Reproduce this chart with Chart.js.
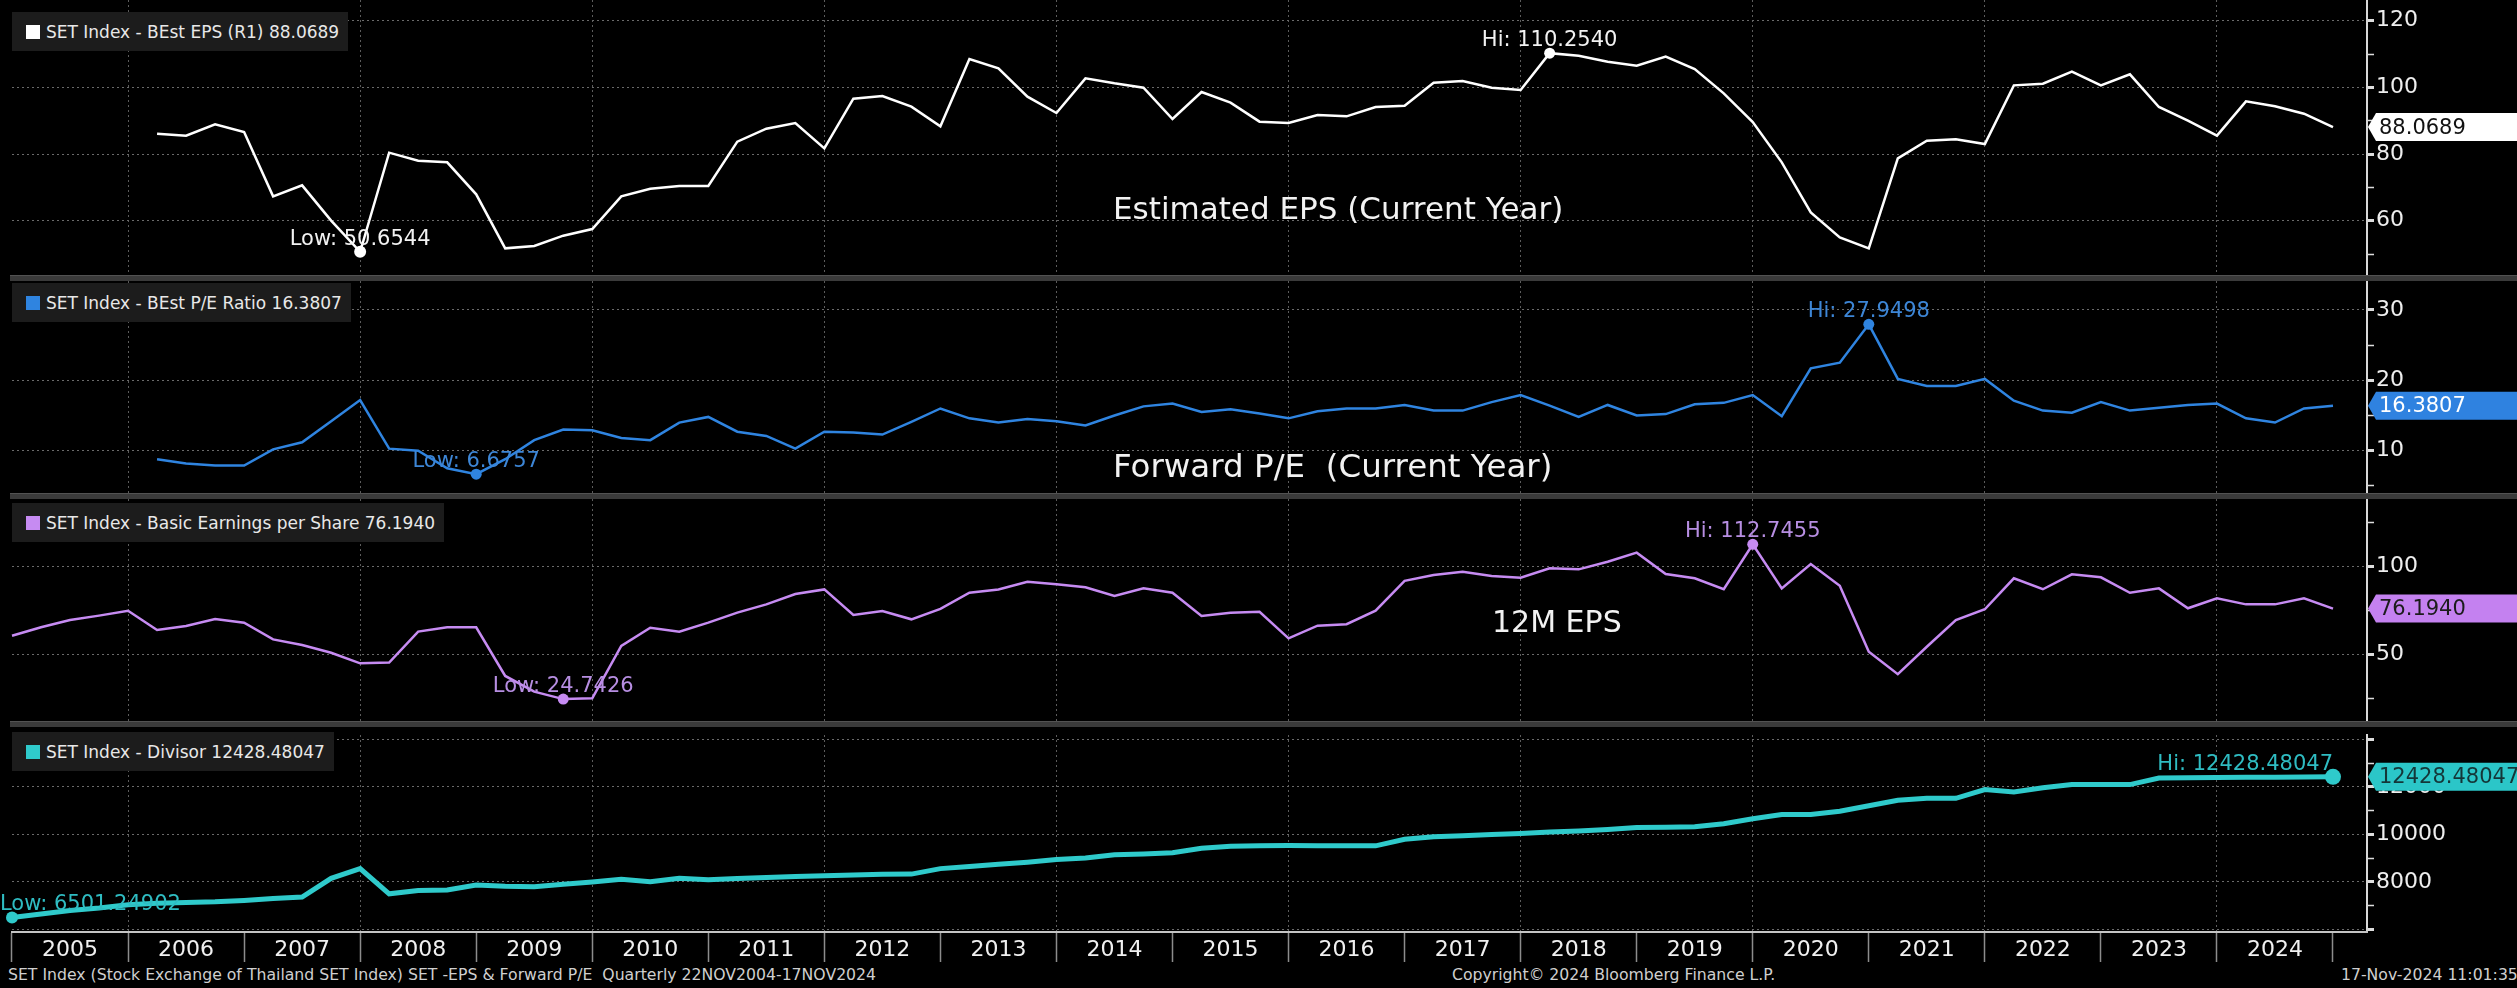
<!DOCTYPE html>
<html>
<head>
<meta charset="utf-8">
<script src="https://cdn.jsdelivr.net/npm/chart.js@4.4.1/dist/chart.umd.min.js"></script>
<style>
  html, body { margin: 0; padding: 0; background: #000; }
  #wrap { position: relative; width: 2517px; height: 988px; overflow: hidden; background: #000; font-family: 'DejaVu Sans', sans-serif; }
  canvas { position: absolute; left: 0; }
  .sep { position: absolute; left: 10px; right: 0; height: 6px; background: #3a3a3a; border-top: 1px solid #525252; box-sizing: border-box; }
  .legend { position: absolute; left: 12px; height: 39px; background: #1c1c1c; color: #e8e8e8; font-size: 17px; padding: 0 9px 0 14px; display: flex; align-items: center; white-space: pre; }
  .legend i { display: inline-block; width: 14px; height: 14px; margin-right: 6px; }
  .title { position: absolute; color: #f2f2f2; font-size: 31px; line-height: 31px; white-space: pre; }
  .foot { position: absolute; top: 966px; color: #cfcfcf; font-size: 15.7px; line-height: 17px; white-space: pre; }
</style>
</head>
<body>
<div id="wrap">
  <canvas id="c1" width="2517" height="275" style="top:0px"></canvas>
  <div class="sep" style="top:275px"></div>
  <canvas id="c2" width="2517" height="212" style="top:281px"></canvas>
  <div class="sep" style="top:493px"></div>
  <canvas id="c3" width="2517" height="222" style="top:499px"></canvas>
  <div class="sep" style="top:721px"></div>
  <canvas id="c4" width="2517" height="238" style="top:727px"></canvas>

  <div class="legend" id="lg1" style="top:12px"></div>
  <div class="legend" id="lg2" style="top:283px"></div>
  <div class="legend" id="lg3" style="top:503px"></div>
  <div class="legend" id="lg4" style="top:732px"></div>

  <div class="title" style="left:1113px; top:193px">Estimated EPS (Current Year)</div>
  <div class="title" style="left:1113px; top:450px; font-size:32.5px; line-height:32.5px">Forward P/E  (Current Year)</div>
  <div class="title" style="left:1492px; top:607px; font-size:30px; line-height:30px">12M EPS</div>

  <div class="foot" style="left:8px">SET Index (Stock Exchange of Thailand SET Index) SET -EPS &amp; Forward P/E  Quarterly 22NOV2004-17NOV2024</div>
  <div class="foot" style="left:1452px">Copyright© 2024 Bloomberg Finance L.P.</div>
  <div class="foot" style="left:2341px">17-Nov-2024 11:01:35</div>
</div>

<script>
// quarter ends, Q4 2004 .. Q4 2024
const quarters = [
  '2004Q4',
  '2005Q1','2005Q2','2005Q3','2005Q4','2006Q1','2006Q2','2006Q3','2006Q4',
  '2007Q1','2007Q2','2007Q3','2007Q4','2008Q1','2008Q2','2008Q3','2008Q4',
  '2009Q1','2009Q2','2009Q3','2009Q4','2010Q1','2010Q2','2010Q3','2010Q4',
  '2011Q1','2011Q2','2011Q3','2011Q4','2012Q1','2012Q2','2012Q3','2012Q4',
  '2013Q1','2013Q2','2013Q3','2013Q4','2014Q1','2014Q2','2014Q3','2014Q4',
  '2015Q1','2015Q2','2015Q3','2015Q4','2016Q1','2016Q2','2016Q3','2016Q4',
  '2017Q1','2017Q2','2017Q3','2017Q4','2018Q1','2018Q2','2018Q3','2018Q4',
  '2019Q1','2019Q2','2019Q3','2019Q4','2020Q1','2020Q2','2020Q3','2020Q4',
  '2021Q1','2021Q2','2021Q3','2021Q4','2022Q1','2022Q2','2022Q3','2022Q4',
  '2023Q1','2023Q2','2023Q3','2023Q4','2024Q1','2024Q2','2024Q3','2024Q4'
];
const yearLabels = [2005,2006,2007,2008,2009,2010,2011,2012,2013,2014,2015,2016,2017,2018,2019,2020,2021,2022,2023,2024];
const gridYears = [2006,2008,2010,2012,2014,2016,2018,2020,2022,2024];

const bestEps = [null,null,null,null,null,86.1,85.5,88.9,86.6,67.3,70.6,60.0,50.6544,80.4,78.0,77.5,67.9,51.7,52.4,55.5,57.5,67.3,69.6,70.4,70.4,83.7,87.6,89.3,81.7,96.6,97.4,94.2,88.3,108.5,105.7,97.2,92.3,102.7,101.2,99.9,90.5,98.6,95.4,89.7,89.3,91.7,91.3,94.1,94.5,101.4,101.9,99.9,99.2,110.254,109.5,107.7,106.5,109.2,105.5,98.2,89.6,77.5,62.5,55.0,51.7,78.7,84.0,84.4,83.0,100.6,101.1,104.7,100.6,103.9,94.1,90.0,85.5,95.8,94.3,92.1,88.0689];
const bestPe = [null,null,null,null,null,8.8,8.2,7.9,7.9,10.2,11.2,14.2,17.2,10.3,10.0,7.5,6.6757,8.8,11.5,13.0,12.9,11.8,11.5,14.0,14.8,12.7,12.1,10.3,12.7,12.6,12.3,14.1,16.0,14.6,14.0,14.5,14.2,13.6,15.0,16.3,16.7,15.5,15.9,15.3,14.6,15.6,16.0,16.0,16.5,15.7,15.7,16.9,17.9,16.4,14.8,16.5,15.0,15.2,16.6,16.8,17.9,14.9,21.7,22.5,27.9498,20.2,19.2,19.2,20.2,17.1,15.7,15.4,16.9,15.7,16.1,16.5,16.7,14.6,14.0,16.0,16.3807];
const basicEps = [60.8,65.6,69.7,72.2,75.0,64.0,66.3,70.3,68.2,58.7,55.5,51.1,45.1,45.5,63.1,65.6,65.6,37.9,29.0,24.7426,25.2,55.0,65.3,63.1,68.2,73.9,78.6,84.5,87.1,72.6,74.8,70.1,76.0,85.2,87.1,91.5,90.0,88.3,83.4,87.7,85.2,72.0,73.9,74.4,59.3,66.5,67.3,75.0,92.0,95.3,97.2,94.7,93.8,99.1,98.5,102.8,108.0,95.9,93.4,87.2,112.7455,87.7,101.5,89.2,51.7,38.9,54.5,69.7,75.8,93.4,87.2,95.7,94.0,85.2,87.7,76.4,82.0,78.6,78.6,82.0,76.194];
const divisor = [6501.24902,6650,6800,6900,7040,7100,7130,7160,7220,7300,7360,8150,8560,7500,7640,7660,7870,7820,7800,7900,8000,8110,8010,8150,8090,8140,8190,8230,8260,8290,8320,8330,8560,8650,8740,8830,8940,9010,9140,9180,9230,9420,9500,9520,9530,9520,9520,9520,9800,9900,9940,10000,10040,10100,10150,10210,10290,10300,10320,10450,10660,10840,10840,10980,11210,11440,11520,11520,11890,11790,11970,12100,12100,12100,12380,12390,12400,12410,12415,12420,12428.48047];

const epsTicks = [50,60,70,80,90,100,110,120];
const epsMajors = [60,80,100,120];
const peTicks = [5,10,15,20,25,30];
const peMajors = [10,20,30];
const basicTicks = [25,50,75,100,125];
const basicMajors = [50,100];
const divTicks = [6000,7000,8000,9000,10000,11000,12000,13000,14000];
const divMajors = [6000,8000,10000,12000,14000];
const divLabels = [8000,10000,12000];

const quarterX = quarters.map(q => Number(q.slice(0, 4)) + Number(q.slice(5)) / 4);
const xMin = 2005, xMax = 2025.293;

Chart.defaults.font.family = "'DejaVu Sans', sans-serif";

const marksPlugin = {
  id: 'marks',
  afterDraw(chart, args, o) {
    const {ctx, chartArea} = chart;
    const xs = chart.scales.x, ys = chart.scales.y;
    const pts = chart.data.datasets[0].data;
    ctx.save();
    ctx.font = "21px 'DejaVu Sans'";
    ctx.textBaseline = 'alphabetic';
    ctx.fillStyle = o.labelColor;
    [[o.hi, 'Hi: '], [o.lo, 'Low: ']].forEach(([idx, pre]) => {
      const p = pts[idx];
      const px = xs.getPixelForValue(p.x), py = ys.getPixelForValue(p.y);
      const txt = pre + p.y.toFixed(o.decimals);
      const w = ctx.measureText(txt).width;
      let left = px - w / 2;
      if (left + w > chartArea.right) left = px - w;
      if (left < chartArea.left) left = px - 12;
      ctx.fillText(txt, left, py - 7);
    });
    // current value flag on the axis
    const last = pts[pts.length - 1];
    const fy = ys.getPixelForValue(last.y);
    const fx = chartArea.right + 1, h = 28;
    ctx.fillStyle = o.flagBg;
    ctx.beginPath();
    ctx.moveTo(fx, fy);
    ctx.lineTo(fx + 8, fy - h / 2);
    ctx.lineTo(chart.width, fy - h / 2);
    ctx.lineTo(chart.width, fy + h / 2);
    ctx.lineTo(fx + 8, fy + h / 2);
    ctx.closePath();
    ctx.fill();
    ctx.fillStyle = o.flagText;
    ctx.textBaseline = 'middle';
    ctx.fillText(last.y.toFixed(o.decimals), fx + 11, fy + 1);
    ctx.restore();
  }
};

function makePanel(id, series, cfg) {
  const pts = quarterX.map((x, i) => ({x: x, y: series[i]}));
  const vals = series.filter(v => v !== null);
  const hi = series.indexOf(Math.max(...vals));
  const lo = series.indexOf(Math.min(...vals));

  document.getElementById('lg' + id).innerHTML =
    '<i style="background:' + cfg.color + '"></i>' + cfg.name + ' ' + series[series.length - 1].toFixed(cfg.decimals);

  const scales = {
    x: {
      type: 'linear', position: 'bottom', min: xMin, max: xMax,
      afterBuildTicks: s => { s.ticks = gridYears.map(v => ({value: v})); },
      afterFit: s => { s.height = 0; s.paddingLeft = 0; s.paddingRight = 0; },
      ticks: {display: false},
      grid: {color: '#5c5c5c', lineWidth: 1, drawTicks: false},
      border: {display: false, dash: [2, 3]}
    },
    y: {
      type: 'linear', position: 'right', min: cfg.min, max: cfg.max,
      afterBuildTicks: s => { s.ticks = cfg.ticks.map(v => ({value: v})); },
      afterFit: s => { s.width = 150; s.paddingTop = 0; s.paddingBottom = 0; },
      ticks: {
        color: '#eeeeee', font: {size: 22}, padding: 2, autoSkip: false,
        callback: v => cfg.labels.includes(v) ? String(v) : ''
      },
      grid: {
        color: c => (c.tick && cfg.majors.includes(c.tick.value)) ? '#6a6a6a' : 'rgba(0,0,0,0)',
        lineWidth: 1,
        tickLength: 7,
        tickColor: '#dddddd',
        tickWidth: c => (c.tick && cfg.majors.includes(c.tick.value)) ? 3 : 1.5
      },
      border: {display: true, color: '#d8d8d8', width: 2, dash: [2, 3]}
    }
  };

  if (cfg.yearAxis) {
    scales.xYear = {
      type: 'linear', position: 'bottom', min: xMin, max: xMax,
      afterBuildTicks: s => { s.ticks = yearLabels.map(v => ({value: v + 0.5})); },
      afterFit: s => { s.height = 33; s.paddingLeft = 0; s.paddingRight = 0; },
      ticks: {
        color: '#f0f0f0', font: {size: 22}, padding: -25, autoSkip: false, maxRotation: 0,
        callback: (v, i) => String(yearLabels[i])
      },
      grid: {offset: true, drawOnChartArea: false, drawTicks: true, tickLength: 30, tickColor: '#8c8c8c', tickWidth: 1.5},
      border: {display: true, color: '#c4c4c4', width: 2}
    };
  }

  return new Chart(document.getElementById('c' + id), {
    type: 'line',
    data: {
      datasets: [{
        data: pts,
        xAxisID: 'x',
        yAxisID: 'y',
        borderColor: cfg.color,
        borderWidth: cfg.width,
        tension: 0,
        spanGaps: false,
        clip: 10,
        pointRadius: c => c.dataIndex === hi ? cfg.hiR : (c.dataIndex === lo ? cfg.loR : 0),
        pointBackgroundColor: cfg.color,
        pointBorderWidth: 0
      }]
    },
    options: {
      responsive: false,
      animation: false,
      devicePixelRatio: 1,
      events: [],
      layout: {padding: {left: 12, right: 0, top: 0, bottom: 0}},
      plugins: {
        legend: {display: false},
        tooltip: {enabled: false},
        marks: {hi: hi, lo: lo, decimals: cfg.decimals, labelColor: cfg.labelColor, flagBg: cfg.flagBg, flagText: cfg.flagText}
      },
      scales: scales
    },
    plugins: [marksPlugin]
  });
}

makePanel(1, bestEps, {
  name: 'SET Index - BEst EPS (R1)', color: '#ffffff', width: 2.5, decimals: 4,
  min: 43.7, max: 126.2, ticks: epsTicks, majors: epsMajors, labels: epsMajors,
  hiR: 5.5, loR: 6, labelColor: '#f2f2f2', flagBg: '#ffffff', flagText: '#111111'
});
makePanel(2, bestPe, {
  name: 'SET Index - BEst P/E Ratio', color: '#2f84e0', width: 2.5, decimals: 4,
  min: 4.0, max: 34.1, ticks: peTicks, majors: peMajors, labels: peMajors,
  hiR: 5.5, loR: 5.5, labelColor: '#3d86d6', flagBg: '#2f82e0', flagText: '#ffffff'
});
makePanel(3, basicEps, {
  name: 'SET Index - Basic Earnings per Share', color: '#c68bf2', width: 2.5, decimals: 4,
  min: 12.3, max: 138.5, ticks: basicTicks, majors: basicMajors, labels: basicMajors,
  hiR: 5.5, loR: 5.5, labelColor: '#b78ee2', flagBg: '#c481f0', flagText: '#1c1c1c'
});
makePanel(4, divisor, {
  name: 'SET Index - Divisor', color: '#2fcacb', width: 5, decimals: 5,
  min: 5890, max: 14190, ticks: divTicks, majors: divMajors, labels: divLabels,
  hiR: 8, loR: 6, labelColor: '#2fbcc2', flagBg: '#2bc6c8', flagText: '#143638',
  yearAxis: true
});
</script>
</body>
</html>
